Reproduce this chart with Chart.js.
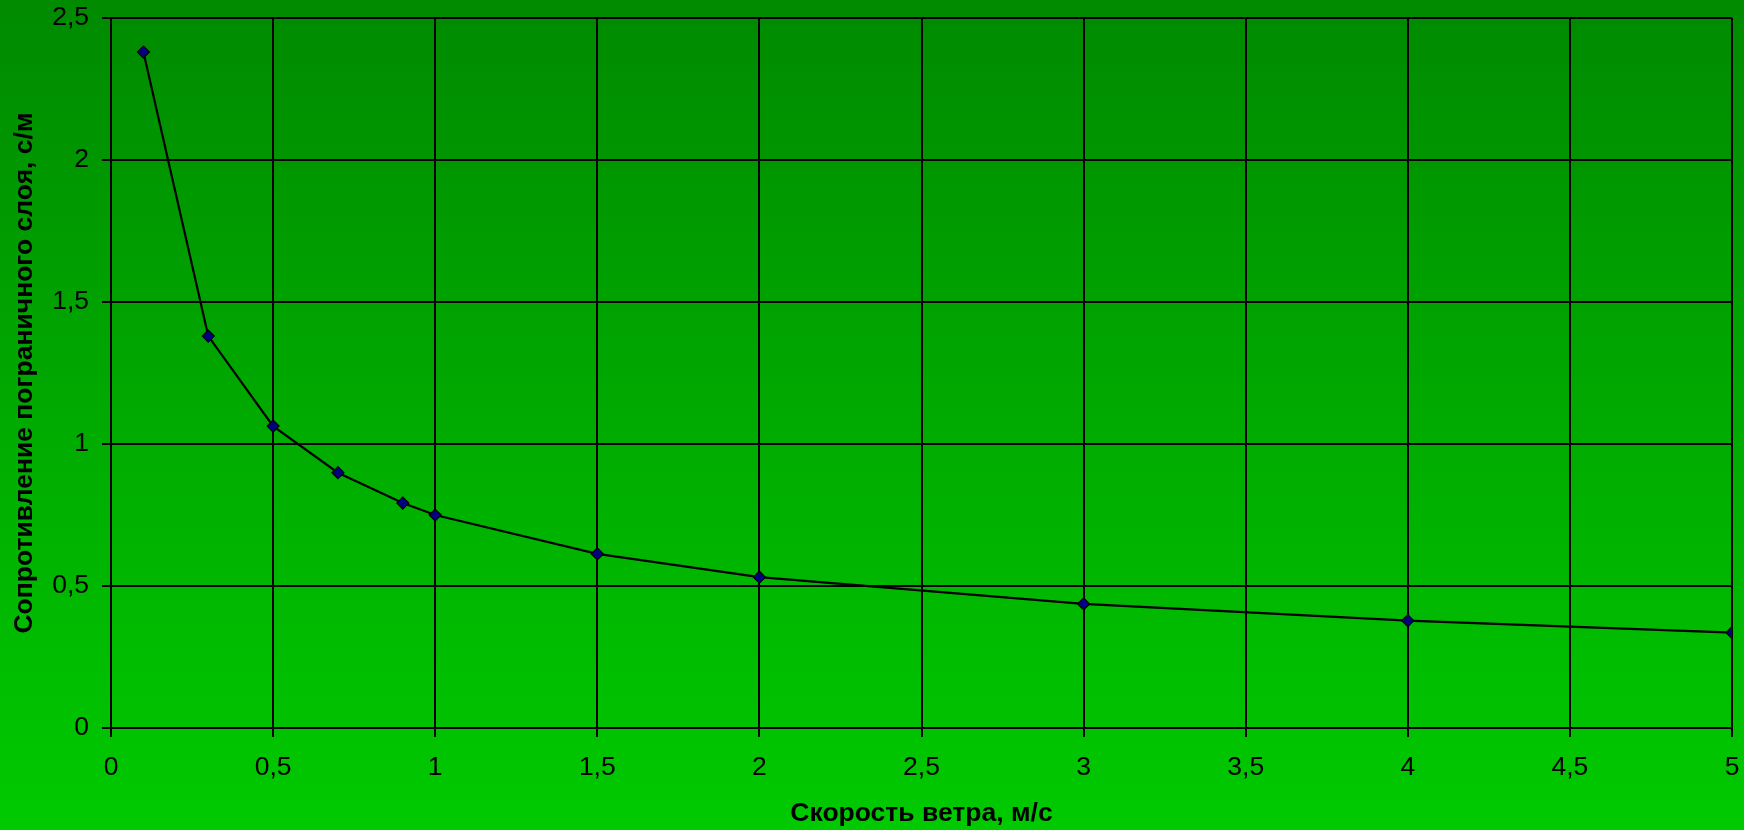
<!DOCTYPE html>
<html>
<head>
<meta charset="utf-8">
<script src="https://cdn.jsdelivr.net/npm/chart.js@4/dist/chart.umd.min.js"></script>
<style>
  body { margin: 0; padding: 0; }
  #wrap { width: 1744px; height: 830px; }
</style>
</head>
<body>
<div id="wrap"><canvas id="myChart" width="1744" height="830"></canvas></div>
<script>
"use strict";

// скорость ветра, м/с
const windSpeed = [0.1, 0.3, 0.5, 0.7, 0.9, 1, 1.5, 2, 3, 4, 5];
// сопротивление пограничного слоя, с/м
const resistance = [2.38, 1.38, 1.063, 0.899, 0.792, 0.75, 0.613, 0.531, 0.437, 0.378, 0.336];

const xTitle = "Скорость ветра, м/с";
const yTitle = "Сопротивление пограничного слоя, с/м";

const fontFamily = '"Liberation Sans", Arial, sans-serif';

function generatePoints(xs, ys) {
  let data = [];
  for (let i = 0; i < xs.length; i++) {
    data.push({ x: xs[i], y: ys[i] });
  }
  return data;
}

function commaLabel(value) {
  return String(value).replace(".", ",");
}

const gradientBackground = {
  id: "gradientBackground",
  beforeDraw(chart) {
    const ctx = chart.ctx;
    const grad = ctx.createLinearGradient(0, 0, 0, chart.height);
    grad.addColorStop(0, "rgb(0, 138, 0)");
    grad.addColorStop(1, "rgb(0, 202, 0)");
    ctx.save();
    ctx.fillStyle = grad;
    ctx.fillRect(0, 0, chart.width, chart.height);
    ctx.restore();
  },
};

const config = {
  type: "line",
  data: {
    datasets: [
      {
        data: generatePoints(windSpeed, resistance),
        borderColor: "#000000",
        borderWidth: 2.2,
        pointStyle: "rectRot",
        pointRadius: 6,
        pointBackgroundColor: "#000080",
        pointBorderColor: "#000000",
        pointBorderWidth: 1.2,
        tension: 0,
      },
    ],
  },
  options: {
    responsive: false,
    animation: false,
    layout: { padding: { top: 18, right: 12, left: 0, bottom: 0 } },
    plugins: {
      legend: { display: false },
      tooltip: { enabled: false },
    },
    scales: {
      x: {
        type: "linear",
        min: 0,
        max: 5,
        afterFit(scale) {
          scale.height = 102;
          scale.paddingLeft = 0;
          scale.paddingRight = 0;
        },
        ticks: {
          stepSize: 0.5,
          color: "#000000",
          font: { family: fontFamily, size: 26.5 },
          padding: 15,
          maxRotation: 0,
          callback: commaLabel,
        },
        grid: { color: "#000000", lineWidth: 2, tickLength: 9 },
        border: { color: "#000000", width: 2 },
        title: {
          display: true,
          text: xTitle,
          color: "#000000",
          font: { family: fontFamily, size: 26.5, weight: "bold" },
          padding: { top: 0, bottom: 0 },
        },
      },
      y: {
        min: 0,
        max: 2.5,
        afterFit(scale) {
          scale.width = 111;
          scale.paddingTop = 0;
          scale.paddingBottom = 0;
        },
        ticks: {
          stepSize: 0.5,
          color: "#000000",
          font: { family: fontFamily, size: 26.5 },
          padding: 13,
          callback: commaLabel,
        },
        grid: { color: "#000000", lineWidth: 2, tickLength: 9 },
        border: { color: "#000000", width: 2 },
        title: {
          display: true,
          text: yTitle,
          color: "#000000",
          font: { family: fontFamily, size: 26.5, weight: "bold" },
          padding: { top: 9, bottom: 0 },
        },
      },
    },
  },
  plugins: [gradientBackground],
};

new Chart(document.getElementById("myChart"), config);
</script>
</body>
</html>
